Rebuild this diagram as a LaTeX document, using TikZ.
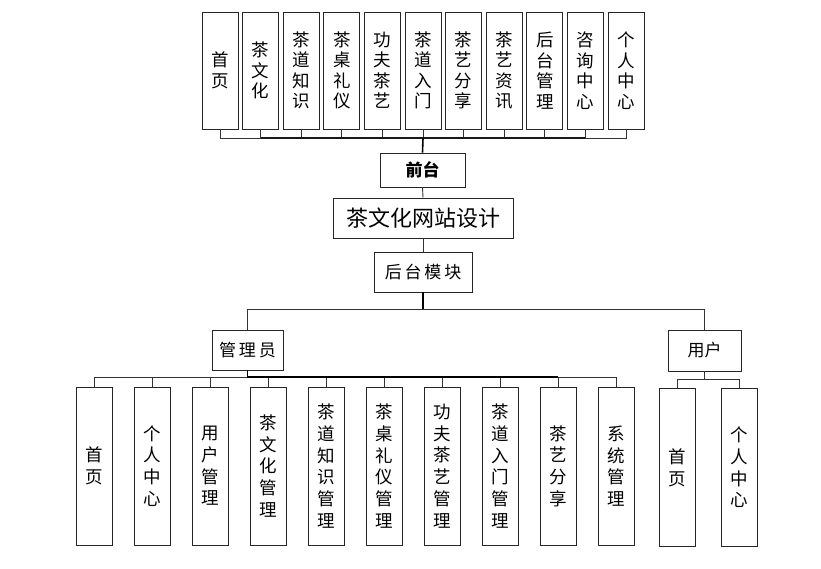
\documentclass[tikz,border=0pt]{standalone}
\usepackage{fontspec}
\newfontfamily\cjk{Noto Sans CJK SC}
\begin{document}
\begin{tikzpicture}[x=1pt,y=-1pt,
  box/.style={draw=black!85, line width=0.9pt, inner sep=0pt, align=center, font=\cjk\fontsize{17.5}{20.5}\selectfont},
  tb/.style={box, minimum width=36pt, minimum height=117pt},
  bb/.style={box, minimum width=36pt, minimum height=158pt, font=\cjk\fontsize{17.5}{21.7}\selectfont},
  ln/.style={draw=black!80, line width=0.9pt},
  mid/.style={draw=black!90, line width=1.2pt},
  thk/.style={draw=black, line width=1.6pt}]
\useasboundingbox (0,0) rectangle (821,569);
% top row
\foreach \t [count=\i] in {{首\\页},{茶\\文\\化},{茶\\道\\知\\识},{茶\\桌\\礼\\仪},{功\\夫\\茶\\艺},{茶\\道\\入\\门},{茶\\艺\\分\\享},{茶\\艺\\资\\讯},{后\\台\\管\\理},{咨\\询\\中\\心},{个\\人\\中\\心}}
  \node[tb] (t\i) at ({220+40.6*(\i-1)},70.5) {\t};
\node[box, minimum width=85pt, minimum height=34pt, font=\cjk\bfseries\fontsize{17}{18}\selectfont] (qt) at (422.5,170) {前台};
\node[box, minimum width=180pt, minimum height=40pt, font=\cjk\fontsize{22}{24}\selectfont] (title) at (423,218) {茶文化网站设计};
\node[box, minimum width=98pt, minimum height=40pt, font=\cjk\fontsize{17}{18}\selectfont] (hm) at (423,272) {后\,台\,模\,块};
\node[box, minimum width=71pt, minimum height=40pt, font=\cjk\fontsize{17}{18}\selectfont] (gly) at (247.5,350) {管\,理\,员};
\node[box, minimum width=73pt, minimum height=41pt, font=\cjk\fontsize{17}{18}\selectfont] (yh) at (704.5,350.5) {用户};
% admin row
\foreach \t [count=\i] in {{首\\页},{个\\人\\中\\心},{用\\户\\管\\理},{茶\\文\\化\\管\\理},{茶\\道\\知\\识\\管\\理},{茶\\桌\\礼\\仪\\管\\理},{功\\夫\\茶\\艺\\管\\理},{茶\\道\\入\\门\\管\\理},{茶\\艺\\分\\享},{系\\统\\管\\理}}
  \node[bb] (a\i) at ({94+58*(\i-1)},466) {\t};
\node[bb] (u1) at (677.5,467.5) {首\\页};
\node[bb] (u2) at (739,467.5) {个\\人\\中\\心};
% connectors top
\coordinate (tbus) at (423,138);
\foreach \i in {1,...,11} \draw[ln] (t\i.south) |- (tbus);
\draw[mid] (t2.south |- tbus) -- (t10.south |- tbus);
\draw[thk] (tbus) -- (qt.north);
\draw[ln] (qt.south) -- (title.north);
\draw[ln] (title.south) -- (hm.north);
\coordinate (hbus) at (423,309);
\draw[thk] (hm.south) -- (hbus);
\draw[ln] (hbus) -| (gly.north);
\draw[ln] (hbus) -| (yh.north);
% admin bus
\coordinate (abus) at (247.5,377);
\foreach \i in {1,...,10} \draw[ln] (a\i.north) |- (abus);
\draw[thk] (gly.south) -- (abus) -- (a9.north |- abus);
% user bus
\coordinate (ubus) at (704.5,379);
\draw[ln] (u1.north) |- (ubus);
\draw[ln] (u2.north) |- (ubus);
\draw[ln] (yh.south) -- (ubus);
\end{tikzpicture}
\end{document}
